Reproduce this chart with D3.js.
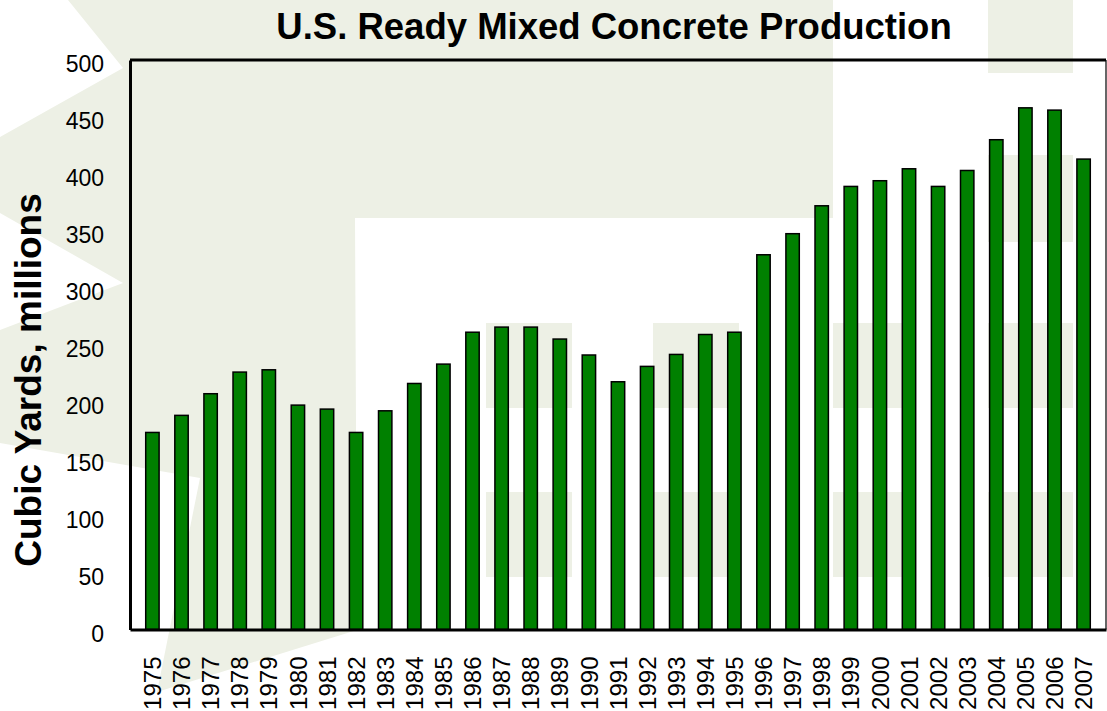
<!DOCTYPE html>
<html>
<head>
<meta charset="utf-8">
<script src="https://cdn.jsdelivr.net/npm/d3@7"></script>
<style>
  body { margin: 0; background: #fff; }
  svg { display: block; font-family: "Liberation Sans", Arial, sans-serif; }
</style>
</head>
<body>
<div id="chart"></div>
<script>
// 데이터
const years = [
  "1975", "1976", "1977", "1978", "1979", "1980", "1981", "1982", "1983",
  "1984", "1985", "1986", "1987", "1988", "1989", "1990", "1991", "1992",
  "1993", "1994", "1995", "1996", "1997", "1998", "1999", "2000", "2001",
  "2002", "2003", "2004", "2005", "2006", "2007",
];
const production = [
  173, 188, 207, 226, 228, 197, 193.5, 173, 192,
  216, 233, 261, 265.5, 265.5, 255, 241, 217.5, 231,
  241.5, 259, 261, 329, 347.5, 372, 389, 394, 404.5,
  389, 403, 430, 458, 456, 413,
];
const yTicks = [0, 50, 100, 150, 200, 250, 300, 350, 400, 450, 500];

const W = 1107;
const H = 711;
const margin = { top: 60, right: 1, bottom: 81.5, left: 130 };
const width = W - margin.left - margin.right;
const height = H - margin.top - margin.bottom;

const svg = d3
  .select("#chart")
  .append("svg")
  .attr("width", W)
  .attr("height", H);

// 배경 장식 (슬라이드 템플릿 무늬)
const bgColor = "#edf0e5";
const bg = svg.append("g");
bg.append("polygon")
  .attr("points", [
    [68, 0], [833, 0], [833, 218], [355, 218], [357, 630], [157, 692],
    [200, 478], [0, 443], [0, 330], [123, 283], [0, 213], [0, 137], [123, 68],
  ].join(" "))
  .attr("fill", bgColor);
[
  [988, 0, 85, 73], [988, 155, 85, 87],
  [486, 323, 86, 85], [653, 323, 86, 85], [833, 323, 74, 85], [988, 323, 85, 85],
  [486, 492, 86, 85], [653, 492, 86, 85], [833, 492, 74, 85], [988, 492, 85, 85],
].forEach((r) => {
  bg.append("rect")
    .attr("x", r[0]).attr("y", r[1])
    .attr("width", r[2]).attr("height", r[3])
    .attr("fill", bgColor);
});

const g = svg
  .append("g")
  .attr("transform", `translate(${margin.left},${margin.top})`);

const x = d3.scaleBand().domain(years).range([0, width]).padding(0.54);
const y = d3.scaleLinear().domain([0, 500]).range([height, 0]);

// 막대
g.selectAll(".bar")
  .data(years)
  .enter()
  .append("rect")
  .attr("class", "bar")
  .attr("x", (d) => x(d))
  .attr("width", x.bandwidth())
  .attr("y", (d, i) => y(production[i]))
  .attr("height", (d, i) => height - y(production[i]))
  .attr("fill", "#008000")
  .attr("stroke", "#000")
  .attr("stroke-width", 1.5);

// 테두리
g.append("line")
  .attr("x1", 0).attr("x2", width).attr("y1", 0).attr("y2", 0)
  .attr("stroke", "#000").attr("stroke-width", 3);
g.append("line")
  .attr("x1", width).attr("x2", width).attr("y1", 0).attr("y2", height)
  .attr("stroke", "#000").attr("stroke-width", 1.2);

// y축
const yAxis = g
  .append("g")
  .call(d3.axisLeft(y).tickValues(yTicks).tickSize(0).tickPadding(26));
yAxis.select(".domain").attr("stroke", "#000").attr("stroke-width", 3);
yAxis
  .selectAll("text")
  .attr("dy", "0.5em")
  .style("font-size", "23px")
  .style("font-family", "Liberation Sans, Arial, sans-serif")
  .style("fill", "#000");

// x축
const xAxis = g
  .append("g")
  .attr("transform", `translate(0,${height})`)
  .call(d3.axisBottom(x).tickSize(0));
xAxis.select(".domain").attr("stroke", "#000").attr("stroke-width", 3);
xAxis
  .selectAll("text")
  .attr("transform", "rotate(-90)")
  .attr("x", -27)
  .attr("y", 0)
  .attr("dy", "0.36em")
  .style("text-anchor", "end")
  .style("font-size", "24px")
  .style("font-family", "Liberation Sans, Arial, sans-serif")
  .style("fill", "#000");

// 제목
svg
  .append("text")
  .attr("x", 614)
  .attr("y", 39)
  .attr("text-anchor", "middle")
  .style("font-size", "36.5px")
  .style("font-weight", "bold")
  .text("U.S. Ready Mixed Concrete Production");

svg
  .append("text")
  .attr("transform", "translate(41,380) rotate(-90)")
  .attr("text-anchor", "middle")
  .style("font-size", "37px")
  .style("font-weight", "bold")
  .text("Cubic Yards, millions");
</script>
</body>
</html>
